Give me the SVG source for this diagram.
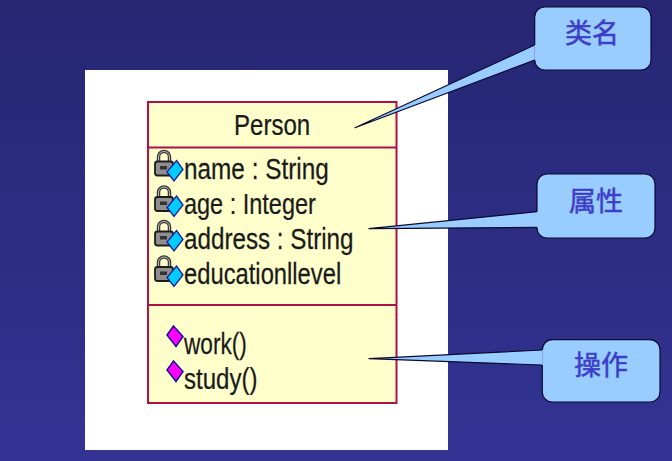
<svg xmlns="http://www.w3.org/2000/svg" width="672" height="461" viewBox="0 0 672 461">
<style>
.t{font-family:"Liberation Sans",Arial,sans-serif;font-size:29px;fill:#1a1a1a;stroke:#1a1a1a;stroke-width:.25}
.b{fill:#ffffcc;stroke:#b01048;stroke-width:2}
.c{fill:#99ccff;stroke:#0a0a30;stroke-width:1.2;stroke-linejoin:round}
.l{font-family:"Noto Sans CJK SC",sans-serif;font-size:27px;fill:#3d3dc8;stroke:#3d3dc8;stroke-width:.5;text-anchor:middle}
</style>
<defs>
<linearGradient id="bg" x1="0" y1="0" x2="0" y2="1"><stop offset="0" stop-color="#262673"/><stop offset="1" stop-color="#333394"/></linearGradient>
<g id="lock">
<path d="M158.500 163v-6a5.500 5.500 0 0 1 11 0v6" fill="none" stroke="#3a3a3a" stroke-width="3.500"/>
<path d="M158.500 163v-6a5.500 5.500 0 0 1 11 0v6" fill="none" stroke="#bbb" stroke-width="1"/>
<rect x="155" y="161.500" width="18" height="14" rx="2.500" fill="#8f8f8f" stroke="#1c1c1c" stroke-width="1.800"/>
<rect x="160" y="166" width="7" height="3.500" fill="#333"/>
<path d="M176.500 160.500L183 169.500L174 181L167 172Z" fill="#00ccff" stroke="#1c1c9a" stroke-width="1.300"/>
</g>
<path id="op" d="M173.500 326L183 336.500L176 346.500L167 335Z" fill="#ff00ff" stroke="#10108a" stroke-width="1.500"/>
</defs>
<rect width="672" height="461" fill="url(#bg)"/>
<rect x="85" y="70" width="363" height="380" fill="#fff"/>
<g id="person-class">
<rect class="b" x="148" y="102" width="248.500" height="301"/>
<path class="b" d="M148 147.500H396.500M148 305H396.500"/>
<text class="t" transform="translate(234 135) scale(.83 1)">Person</text>
<use href="#lock"/>
<use href="#lock" y="35.500"/>
<use href="#lock" y="70"/>
<use href="#lock" y="105.500"/>
<text class="t" transform="translate(184 179) scale(.84 1)">name : String</text>
<text class="t" transform="translate(184 214) scale(.81 1)">age : Integer</text>
<text class="t" transform="translate(184 249) scale(.835 1)">address : String</text>
<text class="t" transform="translate(184 284) scale(.82 1)">educationllevel</text>
<use href="#op"/>
<use href="#op" y="35"/>
<text class="t" transform="translate(184 354) scale(.78 1)">work()</text>
<text class="t" transform="translate(184 389) scale(.83 1)">study()</text>
</g>
<g id="connectors">
<path class="c" d="M534.700 45L355 127.700L534.700 60"/>
<path class="c" d="M537 211.700L369 228.700L537 227.300"/>
<path class="c" d="M542.300 350L369 358.700L542.300 365"/>
</g>
<g id="callout-name">
<path class="c" d="M534.700 45V17a10 10 0 0 1 10-10H641a10 10 0 0 1 10 10V60a10 10 0 0 1-10 10H544.700a10 10 0 0 1-10-10"/>
<text class="l" x="592" y="43">类名</text>
</g>
<g id="callout-attr">
<path class="c" d="M537 211.700V184a10 10 0 0 1 10-10H645a10 10 0 0 1 10 10V228a10 10 0 0 1-10 10H547a10 10 0 0 1-10-10V227.300"/>
<text class="l" x="596" y="211">属性</text>
</g>
<g id="callout-op">
<path class="c" d="M542.300 350a10 10 0 0 1 10-10.300H650a10 10 0 0 1 10 10V392a10 10 0 0 1-10 10H552.300a10 10 0 0 1-10-10V365"/>
<text class="l" x="601" y="375">操作</text>
</g>
</svg>
